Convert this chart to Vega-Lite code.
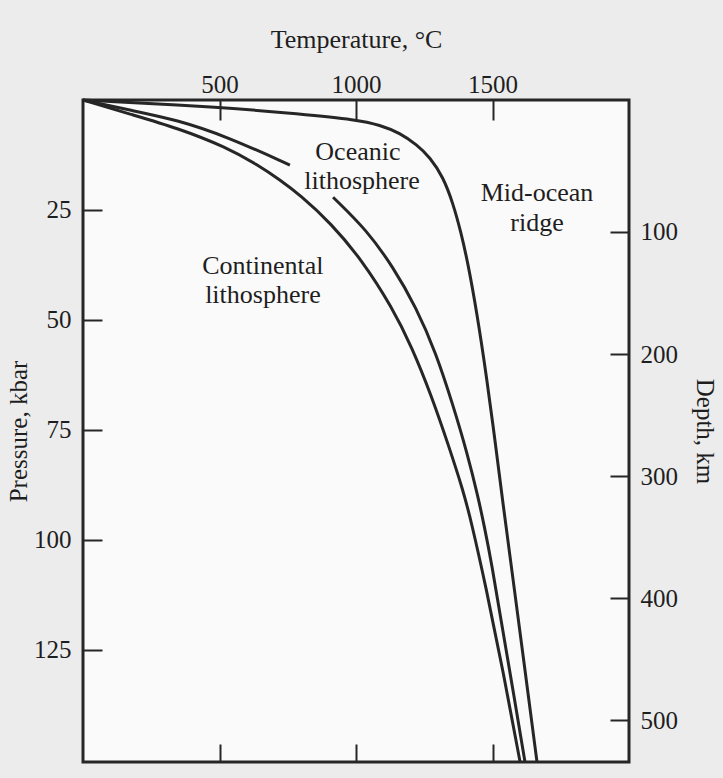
{
  "$schema": "https://vega.github.io/schema/vega-lite/v6.json",
  "width": 546,
  "height": 662,
  "autosize": {"type": "none"},
  "padding": {"left": 83, "top": 100, "right": 94, "bottom": 16},
  "background": "#ececec",
  "config": {
    "font": "Liberation Serif",
    "view": {"stroke": "#262626", "strokeWidth": 3, "fill": "#fafafa"},
    "axis": {
      "domain": false,
      "grid": false,
      "labelFont": "Liberation Serif",
      "titleFont": "Liberation Serif",
      "labelFontSize": 25,
      "titleFontSize": 25,
      "titleFontWeight": "normal",
      "labelColor": "#1e1e1e",
      "titleColor": "#1e1e1e",
      "tickColor": "#262626",
      "tickWidth": 2
    }
  },
  "datasets": {
    "curves": [
      {"curve": "Continental", "seg": "cont", "i": 0, "T": 0, "P": 0},
      {"curve": "Continental", "seg": "cont", "i": 1, "T": 172, "P": 3.2},
      {"curve": "Continental", "seg": "cont", "i": 2, "T": 348, "P": 6.4},
      {"curve": "Continental", "seg": "cont", "i": 3, "T": 524, "P": 10.7},
      {"curve": "Continental", "seg": "cont", "i": 4, "T": 641, "P": 14.8},
      {"curve": "Continental", "seg": "cont", "i": 5, "T": 722, "P": 18.2},
      {"curve": "Continental", "seg": "cont", "i": 6, "T": 795, "P": 21.6},
      {"curve": "Continental", "seg": "cont", "i": 7, "T": 908, "P": 28.0},
      {"curve": "Continental", "seg": "cont", "i": 8, "T": 1022, "P": 36.4},
      {"curve": "Continental", "seg": "cont", "i": 9, "T": 1132, "P": 47.1},
      {"curve": "Continental", "seg": "cont", "i": 10, "T": 1205, "P": 56.2},
      {"curve": "Continental", "seg": "cont", "i": 11, "T": 1278, "P": 67.5},
      {"curve": "Continental", "seg": "cont", "i": 12, "T": 1341, "P": 78.9},
      {"curve": "Continental", "seg": "cont", "i": 13, "T": 1392, "P": 88.7},
      {"curve": "Continental", "seg": "cont", "i": 14, "T": 1421, "P": 95.5},
      {"curve": "Continental", "seg": "cont", "i": 15, "T": 1476, "P": 110.7},
      {"curve": "Continental", "seg": "cont", "i": 16, "T": 1538, "P": 129.6},
      {"curve": "Continental", "seg": "cont", "i": 17, "T": 1601, "P": 150.5},
      {"curve": "Oceanic", "seg": "oce1", "i": 0, "T": 0, "P": 0},
      {"curve": "Oceanic", "seg": "oce1", "i": 1, "T": 172, "P": 2.3},
      {"curve": "Oceanic", "seg": "oce1", "i": 2, "T": 344, "P": 4.5},
      {"curve": "Oceanic", "seg": "oce1", "i": 3, "T": 531, "P": 8.4},
      {"curve": "Oceanic", "seg": "oce1", "i": 4, "T": 758, "P": 14.8},
      {"curve": "Oceanic", "seg": "oce2", "i": 5, "T": 916, "P": 22.1},
      {"curve": "Oceanic", "seg": "oce2", "i": 6, "T": 1040, "P": 29.6},
      {"curve": "Oceanic", "seg": "oce2", "i": 7, "T": 1136, "P": 38.0},
      {"curve": "Oceanic", "seg": "oce2", "i": 8, "T": 1220, "P": 47.1},
      {"curve": "Oceanic", "seg": "oce2", "i": 9, "T": 1293, "P": 57.5},
      {"curve": "Oceanic", "seg": "oce2", "i": 10, "T": 1355, "P": 69.3},
      {"curve": "Oceanic", "seg": "oce2", "i": 11, "T": 1407, "P": 80.2},
      {"curve": "Oceanic", "seg": "oce2", "i": 12, "T": 1447, "P": 90.2},
      {"curve": "Oceanic", "seg": "oce2", "i": 13, "T": 1469, "P": 96.6},
      {"curve": "Oceanic", "seg": "oce2", "i": 14, "T": 1498, "P": 105.7},
      {"curve": "Oceanic", "seg": "oce2", "i": 15, "T": 1531, "P": 118.2},
      {"curve": "Oceanic", "seg": "oce2", "i": 16, "T": 1575, "P": 134.1},
      {"curve": "Oceanic", "seg": "oce2", "i": 17, "T": 1619, "P": 150.5},
      {"curve": "Mid-ocean ridge", "seg": "ridge", "i": 0, "T": 0, "P": 0},
      {"curve": "Mid-ocean ridge", "seg": "ridge", "i": 1, "T": 502, "P": 1.6},
      {"curve": "Mid-ocean ridge", "seg": "ridge", "i": 2, "T": 795, "P": 3.2},
      {"curve": "Mid-ocean ridge", "seg": "ridge", "i": 3, "T": 1004, "P": 4.5},
      {"curve": "Mid-ocean ridge", "seg": "ridge", "i": 4, "T": 1088, "P": 5.7},
      {"curve": "Mid-ocean ridge", "seg": "ridge", "i": 5, "T": 1161, "P": 7.5},
      {"curve": "Mid-ocean ridge", "seg": "ridge", "i": 6, "T": 1223, "P": 10.2},
      {"curve": "Mid-ocean ridge", "seg": "ridge", "i": 7, "T": 1271, "P": 13.0},
      {"curve": "Mid-ocean ridge", "seg": "ridge", "i": 8, "T": 1319, "P": 17.5},
      {"curve": "Mid-ocean ridge", "seg": "ridge", "i": 9, "T": 1355, "P": 23.4},
      {"curve": "Mid-ocean ridge", "seg": "ridge", "i": 10, "T": 1385, "P": 30.2},
      {"curve": "Mid-ocean ridge", "seg": "ridge", "i": 11, "T": 1410, "P": 37.1},
      {"curve": "Mid-ocean ridge", "seg": "ridge", "i": 12, "T": 1443, "P": 48.4},
      {"curve": "Mid-ocean ridge", "seg": "ridge", "i": 13, "T": 1480, "P": 63.7},
      {"curve": "Mid-ocean ridge", "seg": "ridge", "i": 14, "T": 1509, "P": 77.3},
      {"curve": "Mid-ocean ridge", "seg": "ridge", "i": 15, "T": 1538, "P": 91.6},
      {"curve": "Mid-ocean ridge", "seg": "ridge", "i": 16, "T": 1579, "P": 110.7},
      {"curve": "Mid-ocean ridge", "seg": "ridge", "i": 17, "T": 1619, "P": 129.6},
      {"curve": "Mid-ocean ridge", "seg": "ridge", "i": 18, "T": 1663, "P": 150.5}
    ],
    "labels": [
      {"text": "Oceanic", "T": 1007, "P": 11.8},
      {"text": "lithosphere", "T": 1022, "P": 18.4},
      {"text": "Mid-ocean", "T": 1663, "P": 21.1},
      {"text": "ridge", "T": 1663, "P": 28.0},
      {"text": "Continental", "T": 659, "P": 37.7},
      {"text": "lithosphere", "T": 659, "P": 44.3}
    ],
    "depth": [
      {"depth": 100},
      {"depth": 200},
      {"depth": 300},
      {"depth": 400},
      {"depth": 500}
    ]
  },
  "layer": [
    {
      "layer": [
        {
          "data": {"name": "curves"},
          "mark": {"type": "line", "interpolate": "basis", "strokeWidth": 3, "color": "#262626", "strokeCap": "butt"},
          "encoding": {
            "x": {
              "field": "T", "type": "quantitative",
              "scale": {"domain": [0, 2000], "nice": false, "zero": false},
              "axis": {"orient": "top", "values": [500, 1000, 1500], "format": "d", "tickSize": -20, "labelPadding": 23, "title": "Temperature, °C", "titleFontSize": 26, "titlePadding": 20}
            },
            "y": {
              "field": "P", "type": "quantitative",
              "scale": {"domain": [0, 150.5], "reverse": true, "nice": false, "zero": false},
              "axis": {"orient": "left", "values": [25, 50, 75, 100, 125], "tickSize": -19, "labelPadding": 31, "title": "Pressure, kbar", "titlePadding": 2}
            },
            "detail": {"field": "seg"},
            "order": {"field": "i"}
          }
        },
        {
          "data": {"name": "labels"},
          "mark": {"type": "text", "fontSize": 26, "color": "#1e1e1e", "baseline": "middle", "align": "center", "font": "Liberation Serif"},
          "encoding": {
            "x": {"field": "T", "type": "quantitative"},
            "y": {"field": "P", "type": "quantitative"},
            "text": {"field": "text"}
          }
        }
      ]
    },
    {
      "data": {"name": "depth"},
      "mark": {"type": "point", "opacity": 0},
      "encoding": {
        "x": {"datum": 1000, "type": "quantitative", "axis": {"orient": "bottom", "values": [500, 1000, 1500], "tickSize": -18, "labels": false, "title": null}},
        "y": {
          "field": "depth", "type": "quantitative",
          "scale": {"domain": [-8, 534], "reverse": true, "nice": false, "zero": false},
          "axis": {"orient": "right", "values": [100, 200, 300, 400, 500], "tickSize": -19, "labelPadding": 30, "title": "Depth, km", "titlePadding": 14}
        }
      }
    }
  ],
  "resolve": {"scale": {"y": "independent"}, "axis": {"x": "independent", "y": "independent"}}
}
